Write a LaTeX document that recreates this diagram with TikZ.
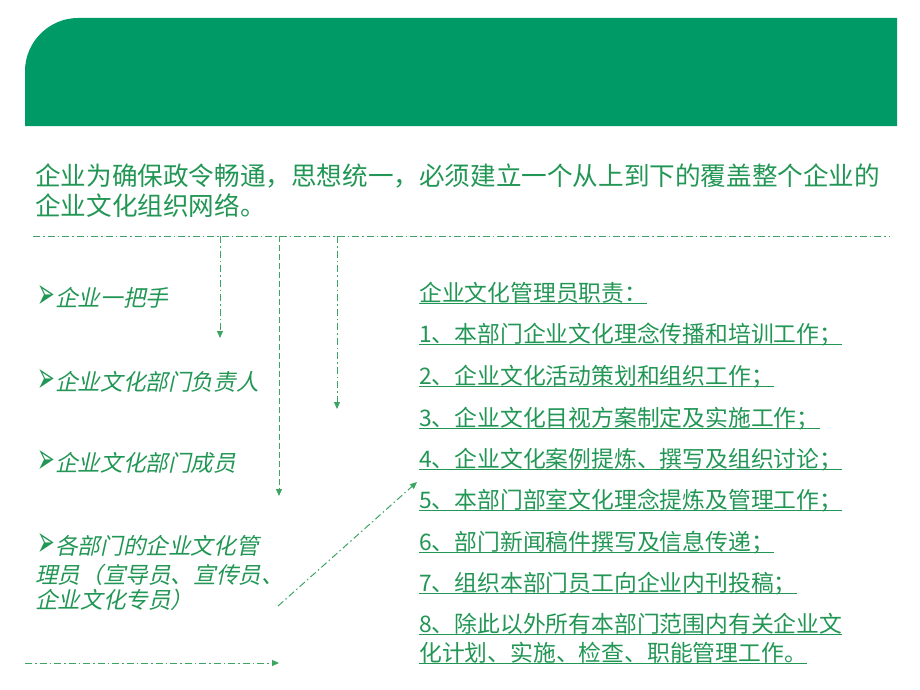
\documentclass[tikz,border=0pt]{standalone}
\usepackage{fontspec}
\usepackage{graphicx}
\usepackage{tikz}
\usetikzlibrary{arrows.meta}
\newfontfamily\cjk{Noto Sans CJK SC}
\newfontfamily\cjkit{Noto Sans CJK SC}[FakeSlant=0.22]
\newfontfamily\sym{DejaVu Sans}
\definecolor{banner}{RGB}{0,154,102}
\definecolor{ink}{RGB}{34,150,84}
\definecolor{flowgreen}{RGB}{60,165,100}
\tikzset{intro/.style={anchor=base west,inner sep=0pt,text=ink,font=\cjk\fontsize{25.6}{30}\selectfont},
  item/.style={anchor=base west,inner sep=0pt,text=ink,font=\cjkit\fontsize{22.6}{27}\selectfont},
  duty/.style={anchor=base west,inner sep=0pt,text=ink,font=\cjk\fontsize{22.8}{28}\selectfont},
  uline/.style={draw=ink,line width=1.4pt},
  dashdot/.style={draw=flowgreen,line width=1pt,dash pattern=on 7pt off 3pt on 1.5pt off 3pt},
  dashline/.style={draw=flowgreen,line width=1pt,dash pattern=on 6pt off 3pt}}
\newcommand{\bul}{\makebox[18pt][l]{\raisebox{-2pt}{\scalebox{0.78}[1.6]{\sym\fontsize{27}{27}\selectfont ➢}}}}

\begin{document}
\begin{tikzpicture}[x=1pt,y=-1pt,>={Triangle[length=7pt,width=6pt]}]
        \useasboundingbox (0,0) rectangle (920,690);
        % banner
        \fill[banner] (25,126) -- (25,71) .. controls (25,42) and (49,18) .. (78,18) -- (897,18) -- (897,126) -- cycle;

        \node[intro] (intro1) at (35,185) {企业为确保政令畅通，思想统一，必须建立一个从上到下的覆盖整个企业的};
        \node[intro] (intro2) at (35,215) {企业文化组织网络。};

        % flow lines
        \coordinate (topl) at (33,236);
        \coordinate (topr) at (890,236);
        \coordinate (a1) at (220,236);
        \coordinate (a1e) at (220,338);
        \coordinate (a2) at (279,236);
        \coordinate (a2e) at (279,496);
        \coordinate (a3) at (337,236);
        \coordinate (a3e) at (337,409);
        \coordinate (d0) at (278,606);
        \coordinate (d1) at (417,482);
        \coordinate (b0) at (25,663);
        \coordinate (b1) at (279,663);

        \draw [dashdot] (topl) -- (topr);
        \draw [dashdot,->] (a1) -- (a1e);
        \draw [dashline,->] (a2) -- (a2e);
        \draw [dashdot,->] (a3) -- (a3e);
        \draw [dashdot,->] (d0) -- (d1);
        \draw [dashdot,->] (b0) -- (b1);

        % left list
        \node[item] (boss) at (37,306) {\bul 企业一把手};
        \node[item] (head) at (37,390) {\bul 企业文化部门负责人};
        \node[item] (staff) at (37,471) {\bul 企业文化部门成员};
        \node[item] (admin1) at (37,554) {\bul 各部门的企业文化管};
        \node[item] (admin2) at (35,583) {理员（宣导员、宣传员、};
        \node[item] (admin3) at (35,608) {企业文化专员）};

        % right list
        \node[duty] (r0) at (419,301) {企业文化管理员职责：};
        \node[duty] (r1) at (419,342) {1、本部门企业文化理念传播和培训工作；};
        \node[duty] (r2) at (419,384) {2、企业文化活动策划和组织工作；};
        \node[duty] (r3) at (419,426) {3、企业文化目视方案制定及实施工作；};
        \node[duty] (r4) at (419,467) {4、企业文化案例提炼、撰写及组织讨论；};
        \node[duty] (r5) at (419,508) {5、本部门部室文化理念提炼及管理工作；};
        \node[duty] (r6) at (419,550) {6、部门新闻稿件撰写及信息传递；};
        \node[duty] (r7) at (419,591) {7、组织本部门员工向企业内刊投稿；};
        \node[duty] (r8) at (419,632) {8、除此以外所有本部门范围内有关企业文};
        \node[duty] (r9) at (419,661) {化计划、实施、检查、职能管理工作。};
        \foreach \i in {0,...,9}
            \draw [uline] ([yshift=-2.5pt]r\i.base west) -- ([yshift=-2.5pt]r\i.base east);
    \end{tikzpicture}
\end{document}
